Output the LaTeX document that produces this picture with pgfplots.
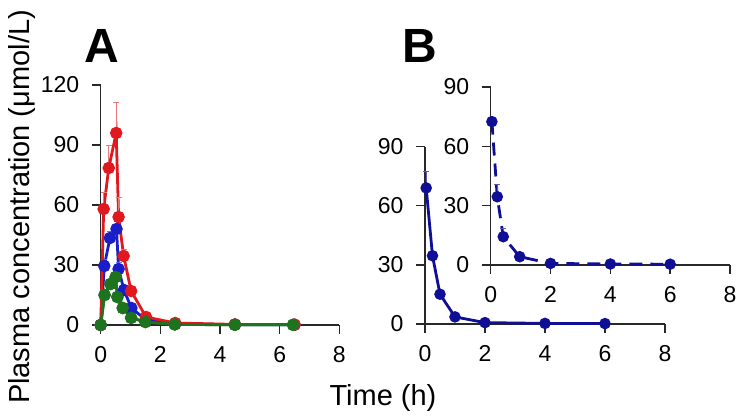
\documentclass[border=0pt]{standalone}
\usepackage{pgfplots}
\pgfplotsset{compat=1.18}
\usepackage{fontspec}
\setmainfont{Liberation Sans}
\definecolor{cRed}{RGB}{225,25,30}
\definecolor{cRedL}{RGB}{235,120,125}
\definecolor{cBlue}{RGB}{25,30,200}
\definecolor{cBlueL}{RGB}{110,115,220}
\definecolor{cGreen}{RGB}{30,115,30}
\definecolor{cGreenL}{RGB}{110,165,110}
\definecolor{cNavy}{RGB}{15,15,150}
\definecolor{cNavyL}{RGB}{90,90,185}
\definecolor{axc}{RGB}{40,40,40}

\pgfplotstableread{
t y e
0 0 0
0.1 58 8
0.27 78.5 11
0.52 96 15
0.6 54 9.5
0.77 34.5 3
1.02 17 2
1.52 4 1
2.5 1 0.5
4.5 0.3 0
6.5 0.2 0
}\redA
\pgfplotstableread{
t y e
0 0 0
0.12 29.5 3
0.31 43.5 3
0.53 48 3.5
0.6 28 3
0.78 17.5 2
1.03 8.5 1
1.52 2.5 0.5
2.5 0.5 0
4.5 0.2 0
6.5 0.1 0
}\blueA
\pgfplotstableread{
t y e
0 0 0
0.13 15 2
0.33 20.5 2
0.5 24 3
0.56 14 2
0.74 8.5 1
1.02 3.6 0.5
1.5 1.5 0
2.48 0.3 0
4.5 0.1 0
6.45 0.1 0
}\greenA
\pgfplotstableread{
t y e
0.04 69 8.5
0.25 34.6 1.5
0.5 15.1 2
1 3.6 0.5
2 0.7 0
4 0.3 0
6 0.2 0
}\mainB
\pgfplotstableread{
t y e
0.04 72.5 2
0.22 34.5 6
0.42 14.3 4
0.97 4.2 1
2 0.8 0
4 0.5 0
6 0.4 0
}\insetB

\newcommand{\tfont}{\fontsize{23}{23}\selectfont}
\pgfplotsset{
  myax/.style={
    scale only axis, anchor=south west, clip=false,
    axis lines*=left, axis line style={-, axc, line width=1.4pt},
    tick align=outside, major tick length=9pt,
    tick style={axc, line width=1.4pt},
    xmin=0, xmax=8, ymin=0, xtick={0,2,4,6,8},
    xticklabel={\tfont\pgfmathprintnumber[assume math mode=true]{\tick}},
    yticklabel={\tfont\pgfmathprintnumber[assume math mode=true]{\tick}},
    xticklabel style={yshift=-9pt},
    yticklabel style={xshift=-9pt},
  },
  ser/.style={color=#1, line width=2.8pt, mark=*, mark size=4.8pt,
    mark options={solid, fill=#1, draw=#1}},
  eb/.style={error bars/.cd, y dir=plus, y explicit,
    error mark options={rotate=90, mark size=3pt, line width=1pt, #1},
    error bar style={line width=1pt, #1}},
}

\begin{document}
\begin{tikzpicture}
\useasboundingbox (0pt,0pt) rectangle (740pt,418pt);

% Panel A
\begin{axis}[myax, at={(100.7pt,93pt)}, width=238.6pt, height=240pt,
  ymax=120, ytick={0,30,60,90,120}]
\addplot[ser=cGreen, eb=cGreenL] table[x=t, y=y, y error=e]{\greenA};
\addplot[ser=cBlue, eb=cBlueL] table[x=t, y=y, y error=e]{\blueA};
\addplot[ser=cRed, eb=cRedL] table[x=t, y=y, y error=e]{\redA};
\addplot[ser=cGreen, eb=cGreenL] table[x=t, y=y, y error=e]{\greenA};
\end{axis}

% Panel B main
\begin{axis}[myax, at={(425pt,94pt)}, width=240pt, height=177.5pt,
  ymax=90, ytick={0,30,60,90}]
\addplot[ser=cNavy, mark size=4.3pt, eb=cNavyL] table[x=t, y=y, y error=e]{\mainB};
\end{axis}

% Panel B inset
\begin{axis}[myax, at={(490.7pt,153pt)}, width=239.3pt, height=178pt,
  ymax=90, ytick={0,30,60,90}]
\addplot[ser=cNavy, mark size=4.3pt, dash pattern=on 13pt off 8pt, eb=cNavyL] table[x=t, y=y, y error=e]{\insetB};
\end{axis}

\node[anchor=base] at (102pt,355pt) {\fontsize{48}{48}\selectfont\bfseries A};
\node[anchor=base] at (420pt,355pt) {\fontsize{48}{48}\selectfont\bfseries B};
\node[anchor=base] at (383pt,12pt) {\fontsize{29}{29}\selectfont Time (h)};
\node[anchor=base, rotate=90] at (29pt,211pt) {\fontsize{29}{29}\selectfont Plasma concentration (μmol/L)};
\end{tikzpicture}
\end{document}
